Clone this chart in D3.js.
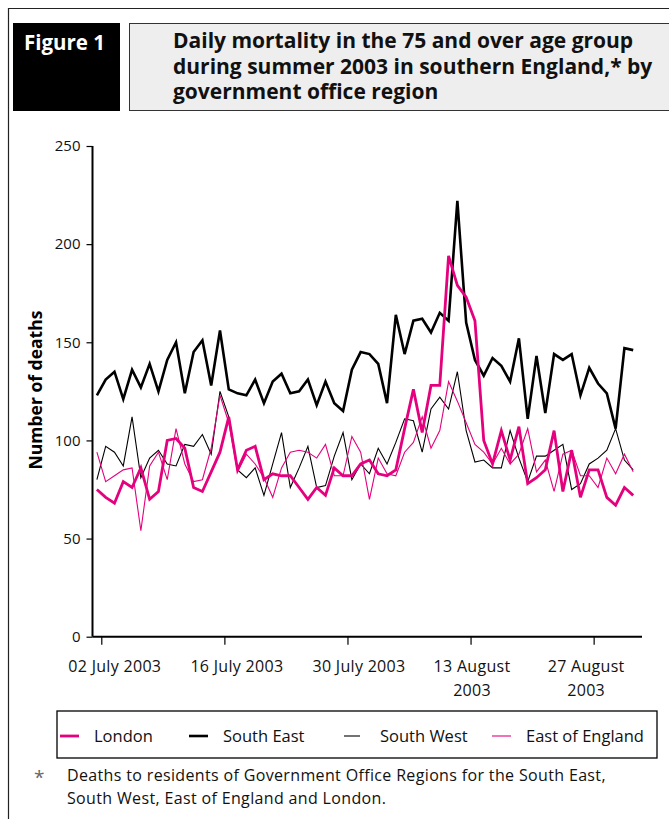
<!DOCTYPE html>
<html>
<head>
<meta charset="utf-8">
<script src="https://cdn.jsdelivr.net/npm/d3@7"></script>
<style>
  body { margin: 0; background: #fff; }
  svg { display: block; font-family: "Open Sans", Lato, sans-serif; }
</style>
</head>
<body>
<svg id="chart" width="669" height="819"></svg>
<script>
// daily deaths, 1 July - 31 August 2003
const london = [75,71,68,79,76,86,70,74,100,101,96,76,74,84,94,112,85,95,97,80,
  83,82,82,76,70,76,72,86,82,82,88,90,83,82,85,106,126,104,128,128,
  194,179,173,161,100,88,105,90,107,78,81,85,105,74,95,71,85,85,71,67,76,72];
const southEast = [123,131,135,121,136,127,139,125,141,150,124,145,151,128,156,126,124,123,131,119,
  130,134,124,125,131,118,130,119,115,136,145,144,139,119,164,144,161,162,155,165,
  161,222,160,141,133,142,138,130,152,111,143,114,144,141,144,123,137,129,124,106,147,146];
const southWest = [80,97,94,87,112,81,91,95,88,87,98,97,103,93,125,112,85,81,86,72,
  88,104,76,86,97,76,77,92,104,80,88,83,96,88,99,111,110,94,116,122,
  116,135,105,89,90,86,86,105,91,79,92,92,95,98,75,78,88,91,95,106,90,85];
const eastOfEngland = [94,79,82,85,86,54,87,94,80,106,88,79,80,96,123,109,84,93,88,81,
  71,86,94,95,94,91,98,82,82,102,94,70,91,83,82,94,99,112,96,105,
  130,120,109,98,94,88,96,88,93,106,84,90,74,93,95,82,82,76,91,83,93,84];

const yTicks = [0, 50, 100, 150, 200, 250];
const xTickDates = ["2003-07-02", "2003-07-16", "2003-07-30", "2003-08-13", "2003-08-27"];
const xTickLabels = [["02 July 2003"], ["16 July 2003"], ["30 July 2003"], ["13 August", "2003"], ["27 August", "2003"]];
const labelShift = [13, 12, 11, 1, -8];

const series = [
  { name: "South East", values: southEast, color: "#000", width: 2.6 },
  { name: "South West", values: southWest, color: "#000", width: 1.1 },
  { name: "East of England", values: eastOfEngland, color: "#e5007d", width: 1.1 },
  { name: "London", values: london, color: "#e5007d", width: 2.8 }
];
const legendOrder = ["London", "South East", "South West", "East of England"];
const legendPos = [60, 189, 344, 492];

const svg = d3.select("#chart");
const parse = d3.timeParse("%Y-%m-%d");
const start = parse("2003-07-01");

// frame
svg.append("path")
  .attr("d", "M8.5,819 V8.5 H669")
  .attr("fill", "none").attr("stroke", "#222").attr("stroke-width", 1.2);

// figure label + title box
svg.append("rect").attr("x", 13).attr("y", 23).attr("width", 107).attr("height", 88).attr("fill", "#000");
svg.append("text").attr("x", 24).attr("y", 50).attr("fill", "#fff")
  .attr("font-size", 20.5).attr("font-weight", "bold").text("Figure 1");

svg.append("rect").attr("x", 129.5).attr("y", 23.5).attr("width", 545).attr("height", 87)
  .attr("fill", "#eeeeee").attr("stroke", "#333").attr("stroke-width", 1);
const titleLines = ["Daily mortality in the 75 and over age group",
  "during summer 2003 in southern England,* by",
  "government office region"];
svg.append("text").attr("x", 173).attr("y", 48)
  .attr("font-size", 21).attr("font-weight", "bold").attr("fill", "#111")
  .selectAll("tspan").data(titleLines).enter().append("tspan")
  .attr("x", 173).attr("dy", (d, i) => i ? 25.5 : 0).text(d => d);

// scales
const x = d3.scaleTime()
  .domain([start, d3.timeHour.offset(d3.timeDay.offset(start, 62), 12)])
  .range([92.5, 642]);
const y = d3.scaleLinear().domain([0, 250]).range([636.7, 146]);
const dayX = i => x(d3.timeHour.offset(d3.timeDay.offset(start, i), 12));

// lines
const line = d3.line().x((d, i) => dayX(i)).y(d => y(d));
svg.append("g").selectAll("path").data(series).enter().append("path")
  .attr("d", d => line(d.values))
  .attr("fill", "none")
  .attr("stroke", d => d.color)
  .attr("stroke-width", d => d.width)
  .attr("stroke-linejoin", "miter");

// y axis
const yAxis = svg.append("g").attr("transform", "translate(92.5,0)")
  .call(d3.axisLeft(y).tickValues(yTicks).tickSize(6).tickPadding(6));
yAxis.select(".domain").attr("stroke-width", 2).attr("d", `M0,${y(250)}V${y(0)}`);
yAxis.selectAll(".tick line").attr("stroke-width", 1.2);
yAxis.selectAll("text").attr("font-size", 15).attr("font-family", "'Open Sans', sans-serif").attr("fill", "#111");

// x axis
const xAxis = svg.append("g").attr("transform", `translate(0,${y(0)})`)
  .call(d3.axisBottom(x).tickValues(xTickDates.map(parse)).tickSize(8).tickFormat(""));
xAxis.select(".domain").attr("stroke-width", 2).attr("d", `M92.5,0H642`);
xAxis.selectAll(".tick line").attr("stroke-width", 1.2);
xAxis.selectAll(".tick text").each(function (d, i) {
  const t = d3.select(this).attr("font-size", 16).attr("font-family", "'Open Sans', sans-serif")
    .attr("letter-spacing", 0.3).attr("fill", "#111").attr("y", 0).attr("dy", 0);
  xTickLabels[i].forEach((s, k) => {
    t.append("tspan").attr("x", 0).attr("dx", labelShift[i]).attr("y", 35 + k * 24.5).text(s);
  });
});

// y axis title
svg.append("text")
  .attr("transform", "translate(42,390) rotate(-90)")
  .attr("text-anchor", "middle").attr("font-size", 17.5).attr("font-weight", "bold")
  .text("Number of deaths");

// legend
svg.append("rect").attr("x", 57).attr("y", 711).attr("width", 600).attr("height", 47)
  .attr("fill", "#fff").attr("stroke", "#000").attr("stroke-width", 1.3);
const legendItems = svg.append("g").selectAll("g")
  .data(legendOrder.map(n => series.find(s => s.name === n))).enter().append("g")
  .attr("transform", (d, i) => `translate(${legendPos[i]},736)`);
legendItems.append("line")
  .attr("x1", 0).attr("x2", d => d.name === "South West" ? 16 : 19)
  .attr("stroke", d => d.color).attr("stroke-width", d => d.width);
legendItems.append("text").attr("x", d => d.name === "South West" ? 36 : 34).attr("y", 6)
  .attr("font-size", 16.5).attr("fill", "#111").text(d => d.name);

// footnote
svg.append("text").attr("x", 34).attr("y", 784).attr("font-size", 19).attr("fill", "#666").text("*");
svg.append("text").attr("x", 67).attr("y", 781).attr("font-size", 16).attr("letter-spacing", 0.35).attr("fill", "#111")
  .selectAll("tspan").data([
    "Deaths to residents of Government Office Regions for the South East,",
    "South West, East of England and London."
  ]).enter().append("tspan").attr("x", 67).attr("dy", (d, i) => i ? 23 : 0).text(d => d);
</script>
</body>
</html>
